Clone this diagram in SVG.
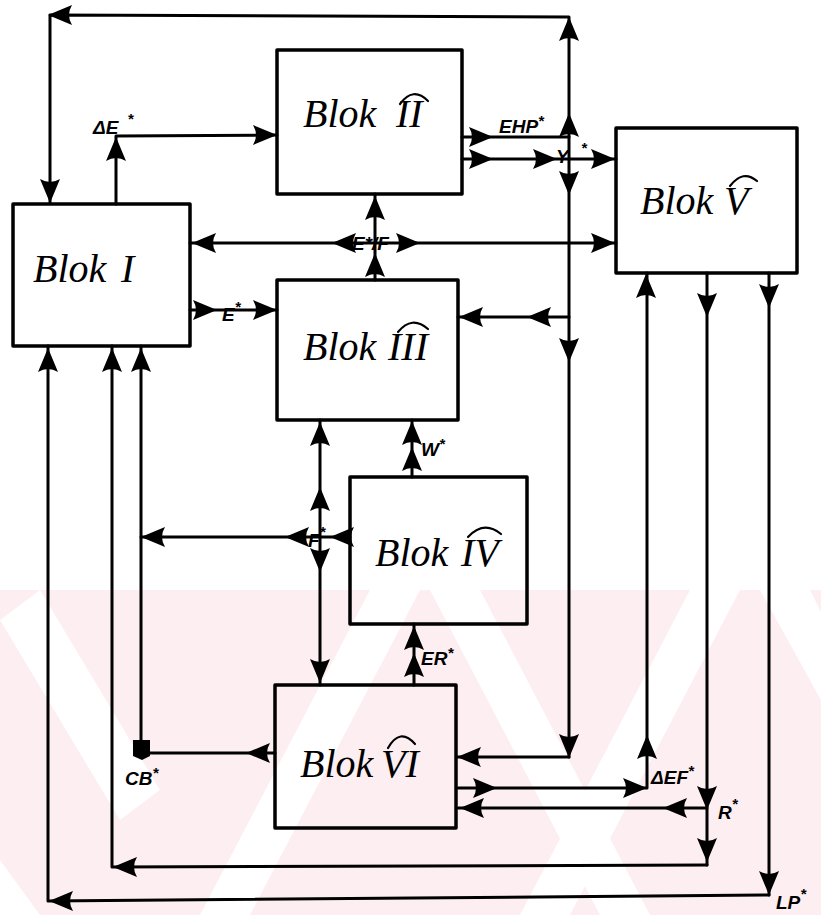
<svg xmlns="http://www.w3.org/2000/svg" xmlns:xlink="http://www.w3.org/1999/xlink" width="821" height="915" viewBox="0 0 821 915">
<style>
.ln{stroke:#000;stroke-width:3;fill:none;stroke-linecap:round;stroke-linejoin:round}
.bx{fill:none;stroke:#000;stroke-width:3.5;stroke-linejoin:round}
.hat{fill:none;stroke:#000;stroke-width:2.2;stroke-linecap:round}
.bl{font-family:"Liberation Serif",serif;font-style:italic;font-size:40px;fill:#000}
.lb{font-family:"Liberation Sans",sans-serif;font-style:italic;font-weight:bold;font-size:19px;fill:#000}
.st{font-size:15px}
.wm{fill:#fff}
</style>
<defs>
<path id="ah" d="M0,0 L-24,-10 Q-18,0 -24,10 Z" fill="#000"/>
</defs>
<rect width="821" height="915" fill="#fff"/>
<g id="watermark">
<rect x="0" y="590" width="821" height="325" fill="#fdeef1"/>
<polygon class="wm" points="0,620 40,590 160,790 120,820"/>
<polygon class="wm" points="200,915 250,915 420,590 370,590"/>
<polygon class="wm" points="430,590 480,590 650,915 600,915"/>
<polygon class="wm" points="520,915 570,915 740,590 690,590"/>
<polygon class="wm" points="760,590 810,590 821,612 821,700"/>
<polygon class="wm" points="0,860 0,915 40,915"/>
</g>
<g id="connectors">
<polyline class="ln" points="569,757 569,17 50,15 50,203"/>
<use xlink:href="#ah" transform="translate(569,17) rotate(-90)"/>
<use xlink:href="#ah" transform="translate(48,15) rotate(180)"/>
<use xlink:href="#ah" transform="translate(50,203) rotate(90)"/>
<use xlink:href="#ah" transform="translate(569,113) rotate(-90)"/>
<use xlink:href="#ah" transform="translate(569,195) rotate(90)"/>
<use xlink:href="#ah" transform="translate(569,362) rotate(90)"/>
<use xlink:href="#ah" transform="translate(569,758) rotate(90)"/>
<polyline class="ln" points="569,757 457,757"/>
<use xlink:href="#ah" transform="translate(457,757) rotate(180)"/>
<polyline class="ln" points="116,204 116,136 277,135"/>
<use xlink:href="#ah" transform="translate(116,137) rotate(-90)"/>
<use xlink:href="#ah" transform="translate(277,135)"/>
<line class="ln" x1="462" y1="137" x2="569" y2="137"/>
<use xlink:href="#ah" transform="translate(493,137)"/>
<line class="ln" x1="462" y1="159" x2="616" y2="159"/>
<use xlink:href="#ah" transform="translate(493,159)"/>
<use xlink:href="#ah" transform="translate(557,159)"/>
<use xlink:href="#ah" transform="translate(615,159)"/>
<line class="ln" x1="190" y1="243" x2="616" y2="243"/>
<use xlink:href="#ah" transform="translate(192,243) rotate(180)"/>
<use xlink:href="#ah" transform="translate(332,243) rotate(180)"/>
<use xlink:href="#ah" transform="translate(420,243)"/>
<use xlink:href="#ah" transform="translate(615,243)"/>
<line class="ln" x1="375" y1="194" x2="375" y2="280"/>
<use xlink:href="#ah" transform="translate(375,196) rotate(-90)"/>
<use xlink:href="#ah" transform="translate(375,253) rotate(-90)"/>
<line class="ln" x1="190" y1="310" x2="277" y2="310"/>
<use xlink:href="#ah" transform="translate(217,310)"/>
<use xlink:href="#ah" transform="translate(277,310)"/>
<line class="ln" x1="569" y1="317" x2="458" y2="317"/>
<use xlink:href="#ah" transform="translate(527,317) rotate(180)"/>
<use xlink:href="#ah" transform="translate(459,317) rotate(180)"/>
<line class="ln" x1="320" y1="420" x2="320" y2="685"/>
<use xlink:href="#ah" transform="translate(320,422) rotate(-90)"/>
<use xlink:href="#ah" transform="translate(320,487) rotate(-90)"/>
<use xlink:href="#ah" transform="translate(320,572) rotate(90)"/>
<use xlink:href="#ah" transform="translate(320,683) rotate(90)"/>
<line class="ln" x1="412" y1="477" x2="412" y2="420"/>
<use xlink:href="#ah" transform="translate(412,421) rotate(-90)"/>
<use xlink:href="#ah" transform="translate(412,447) rotate(-90)"/>
<line class="ln" x1="414" y1="685" x2="414" y2="624"/>
<use xlink:href="#ah" transform="translate(414,626) rotate(-90)"/>
<use xlink:href="#ah" transform="translate(414,653) rotate(-90)"/>
<line class="ln" x1="350" y1="537" x2="141" y2="537"/>
<use xlink:href="#ah" transform="translate(330,537) rotate(180)"/>
<use xlink:href="#ah" transform="translate(285,537) rotate(180)"/>
<use xlink:href="#ah" transform="translate(141,537) rotate(180)"/>
<polyline class="ln" points="141,346 141,753 275,753"/>
<use xlink:href="#ah" transform="translate(141,348) rotate(-90)"/>
<use xlink:href="#ah" transform="translate(246,753) rotate(180)"/>
<path d="M133,740 L150,740 L150,756 L142,760 L133,756 Z" fill="#000"/>
<polyline class="ln" points="112,346 112,867 707,865"/>
<use xlink:href="#ah" transform="translate(112,348) rotate(-90)"/>
<use xlink:href="#ah" transform="translate(113,867) rotate(180)"/>
<polyline class="ln" points="48,346 48,901 769,895"/>
<use xlink:href="#ah" transform="translate(48,348) rotate(-90)"/>
<use xlink:href="#ah" transform="translate(49,901) rotate(180)"/>
<polyline class="ln" points="647,273 647,788 458,788"/>
<use xlink:href="#ah" transform="translate(646,274) rotate(-90)"/>
<use xlink:href="#ah" transform="translate(647,735) rotate(-90)"/>
<use xlink:href="#ah" transform="translate(497,788)"/>
<use xlink:href="#ah" transform="translate(647,788)"/>
<line class="ln" x1="707" y1="273" x2="707" y2="865"/>
<use xlink:href="#ah" transform="translate(707,317) rotate(90)"/>
<use xlink:href="#ah" transform="translate(707,810) rotate(90)"/>
<use xlink:href="#ah" transform="translate(707,862) rotate(90)"/>
<line class="ln" x1="707" y1="808" x2="458" y2="808"/>
<use xlink:href="#ah" transform="translate(663,808) rotate(180)"/>
<use xlink:href="#ah" transform="translate(460,808) rotate(180)"/>
<line class="ln" x1="769" y1="273" x2="769" y2="895"/>
<use xlink:href="#ah" transform="translate(769,308) rotate(90)"/>
<use xlink:href="#ah" transform="translate(769,895) rotate(90)"/>
</g>
<g id="labels">
<text class="lb" x="93" y="134" font-size="18">ΔE<tspan class="st" dx="9" dy="-10">*</tspan></text>
<text class="lb" x="499" y="133">EHP<tspan class="st" dy="-7">*</tspan></text>
<text class="lb" x="556" y="163">Y</text>
<text class="lb st" x="581" y="153">*</text>
<text class="lb" x="352" y="250" font-size="18">E*/F</text>
<text class="lb" x="222" y="321" font-size="21">E<tspan class="st" dy="-9">*</tspan></text>
<text class="lb" x="421" y="456">W<tspan class="st" dy="-7">*</tspan></text>
<text class="lb" x="308" y="547" font-size="20">F<tspan class="st" dy="-10">*</tspan></text>
<text class="lb" x="421" y="665">ER<tspan class="st" dy="-7">*</tspan></text>
<text class="lb" x="125" y="785">CB<tspan class="st" dy="-7">*</tspan></text>
<text class="lb" x="651" y="784">ΔEF<tspan class="st" dy="-8">*</tspan></text>
<text class="lb" x="718" y="819" font-size="21">R<tspan class="st" dy="-10">*</tspan></text>
<text class="lb" x="776" y="909" font-size="21">LP<tspan class="st" dy="-10">*</tspan></text>
</g>
<g id="blok1">
<rect class="bx" x="13" y="204" width="177" height="142"/>
<text class="bl" x="33" y="282">Blok <tspan x="121">I</tspan></text>
</g>
<g id="blok2">
<rect class="bx" x="277" y="50" width="185" height="144"/>
<text class="bl" x="303" y="127" font-size="41">Blok <tspan x="396">II</tspan></text>
<path class="hat" d="M400,104 Q413,86 428,101"/>
</g>
<g id="blok3">
<rect class="bx" x="277" y="280" width="181" height="140"/>
<text class="bl" x="303" y="360">Blok <tspan x="388">III</tspan></text>
<path class="hat" d="M398,332 Q412,315 428,329"/>
</g>
<g id="blok4">
<rect class="bx" x="350" y="477" width="177" height="147"/>
<text class="bl" x="375" y="566">Blok <tspan x="461">IV</tspan></text>
<path class="hat" d="M468,537 Q484,520 501,534"/>
</g>
<g id="blok5">
<rect class="bx" x="616" y="128" width="181" height="145"/>
<text class="bl" x="640" y="214" font-size="36">Blok <tspan x="724">V</tspan></text>
<path class="hat" d="M730,186 Q743,169 757,181"/>
</g>
<g id="blok6">
<rect class="bx" x="275" y="685" width="181" height="143"/>
<text class="bl" x="300" y="777" font-size="41">Blok<tspan x="381">VI</tspan></text>
<path class="hat" d="M388,748 Q400,727 415,744"/>
</g>
</svg>
